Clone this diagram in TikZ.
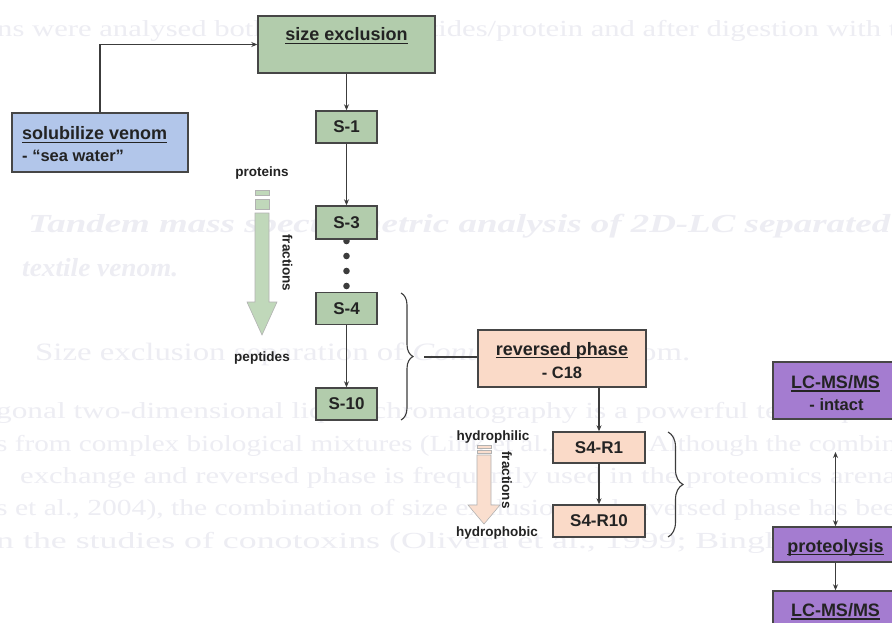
\documentclass[tikz,border=0pt]{standalone}
\usepackage{fontspec}
\setmainfont{Liberation Serif}
\newfontfamily\arialf{Liberation Sans}
\usepackage{graphicx}
\newcommand{\ulx}[1]{\setbox0=\hbox{#1}\leavevmode\rlap{\rule[-3.2pt]{\wd0}{1.3pt}}\box0}
\usetikzlibrary{arrows.meta,decorations.pathreplacing}
\definecolor{gfill}{RGB}{178,204,172}
\definecolor{garrow}{RGB}{192,216,186}
\definecolor{bfill}{RGB}{178,198,234}
\definecolor{pfill}{RGB}{250,218,200}
\definecolor{parrow}{RGB}{250,222,206}
\definecolor{pufill}{RGB}{164,124,208}
\definecolor{bord}{RGB}{70,70,70}
\definecolor{linec}{RGB}{60,60,60}
\definecolor{txt}{RGB}{35,35,35}
\definecolor{bgt}{RGB}{237,237,243}
\tikzset{
  bx/.style={draw=bord, line width=1.4pt, inner sep=0pt},
  ttl/.style={font=\arialf\bfseries\fontsize{18}{20}\selectfont, text=txt, inner sep=0pt},
  subt/.style={font=\arialf\bfseries\fontsize{16.5}{18}\selectfont, text=txt, inner sep=0pt},
  sml/.style={font=\arialf\bfseries\fontsize{13.5}{15}\selectfont, text=txt, inner sep=0pt},
  slab/.style={bx, font=\arialf\bfseries\fontsize{17}{19}\selectfont, text=txt, minimum width=61pt, minimum height=32pt},
  conn/.style={draw=linec, line width=1.1pt, -{Stealth[length=6pt,width=5pt]}},
  dconn/.style={draw=linec, line width=1.1pt, {Stealth[length=6pt,width=5pt]}-{Stealth[length=6pt,width=5pt]}},
  plain/.style={draw=linec, line width=1.1pt},
  brc/.style={draw=linec, line width=1.1pt, decorate, decoration={brace, amplitude=12pt}},
  bgl/.style={font=\fontsize{23}{25}\selectfont, text=bgt, inner sep=0pt, anchor=base west},
  bgm/.style={font=\fontsize{25}{27}\selectfont, text=bgt, inner sep=0pt, anchor=base west},
  bgh/.style={font=\bfseries\itshape\fontsize{26}{28}\selectfont, text=bgt, inner sep=0pt, anchor=base west},
  fat/.style={draw=gray!60, line width=0.6pt},
}
\begin{document}
\begin{tikzpicture}[x=1pt,y=-1pt]
\useasboundingbox (0,0) rectangle (892,623);
\clip (0,0) rectangle (892,623);
\fill[white] (0,0) rectangle (892,623);

% faint page text behind the figure
\node[bgl] (bg1) at (-3,37) {\resizebox{900pt}{\height}{ns were analysed both as intact peptides/protein and after digestion with t}};
\node[bgh] (bg2) at (28,233) {\resizebox{862pt}{\height}{Tandem mass spectrometric analysis of 2D-LC separated}};
\node[bgh] (bg3) at (22,276) {\resizebox{156pt}{\height}{textile venom.}};
\node[bgm] (bg4) at (35,360) {\resizebox{655pt}{\height}{Size exclusion separation of \emph{Conus textile} venom.}};
\node[bgl] (bg5) at (-4,418) {\resizebox{900pt}{\height}{gonal two-dimensional liquid chromatography is a powerful technique f}};
\node[bgl] (bg6) at (-4,451) {\resizebox{900pt}{\height}{s from complex biological mixtures (Link et al., 1999). Although the combin}};
\node[bgl] (bg7) at (20,483) {\resizebox{876pt}{\height}{exchange and reversed phase is frequently used in the proteomics arena}};
\node[bgl] (bg8) at (-4,515) {\resizebox{900pt}{\height}{s et al., 2004), the combination of size exclusion and reversed phase has bee}};
\node[bgl] (bg9) at (-4,548) {\resizebox{900pt}{\height}{n the studies of conotoxins (Olivera et al., 1999; Bingham et al}};

% big fraction arrows
\draw[fat, fill=garrow] (255,213) -- (269,213) -- (269,302) -- (277,302) -- (262,335) -- (247,302) -- (255,302) -- cycle;
\draw[fat, fill=garrow] (255,190) rectangle (269,195);
\draw[fat, fill=garrow] (255,199) rectangle (269,209);
\draw[fat, fill=parrow] (477,455) -- (491,455) -- (491,505) -- (500,505) -- (484,524) -- (468,505) -- (477,505) -- cycle;
\draw[fat, fill=parrow] (477,445) rectangle (491,448);
\draw[fat, fill=parrow] (477,450) rectangle (491,453);

% dots between S-3 and S-4
\fill[linec] (346.5,241) circle (3.3);
\fill[linec] (346.5,256) circle (3.3);
\fill[linec] (346.5,271) circle (3.3);
\fill[linec] (346.5,286) circle (3.3);

% boxes
\node[bx, fill=gfill, minimum width=177pt, minimum height=57pt] (sizeex) at (346.5,44.5) {};
\node[bx, fill=bfill, minimum width=176pt, minimum height=59pt] (solub) at (100,142.5) {};
\node[slab, fill=gfill] (s1) at (346.5,127) {S-1};
\node[slab, fill=gfill, minimum height=33pt] (s3) at (346.5,222.5) {S-3};
\node[slab, fill=gfill] (s4) at (346.5,308.5) {S-4};
\node[slab, fill=gfill] (s10) at (346.5,404) {S-10};
\node[bx, fill=pfill, minimum width=168pt, minimum height=57pt] (rp) at (562,358.5) {};
\node[slab, fill=pfill, minimum width=92pt, minimum height=31pt] (r1) at (599,447.5) {S4-R1};
\node[slab, fill=pfill, minimum width=92pt, minimum height=32pt] (r10) at (599,521) {S4-R10};
\node[bx, fill=pufill, minimum width=125pt, minimum height=57pt] (lc1) at (835.5,390.5) {};
\node[bx, fill=pufill, minimum width=125pt, minimum height=35pt] (prot) at (835.5,544.5) {};
\node[bx, fill=pufill, minimum width=125pt, minimum height=57pt] (lc2) at (835.5,619.5) {};

% box texts
\node[ttl, anchor=base] (sizeexl) at (346.5,41) {\ulx{size exclusion}};
\node[ttl, anchor=base west] (solubl) at (22,140) {\ulx{solubilize venom}};
\node[subt, anchor=base west] (solubs) at (22,162) {- “sea water”};
\node[ttl, anchor=base] (rpl) at (562,355) {\ulx{reversed phase}};
\node[subt, anchor=base] (rps) at (562,378) {- C18};
\node[ttl, anchor=base] (lc1l) at (835.5,388.5) {\ulx{LC-MS/MS}};
\node[subt, anchor=base] (lc1s) at (836.5,410) {- intact};
\node[ttl, anchor=base] (protl) at (835.5,552) {\ulx{proteolysis}};
\node[ttl, anchor=base] (lc2l) at (835.5,616.5) {\ulx{LC-MS/MS}};

% small labels
\node[sml] (prl) at (262,173) {proteins};
\node[sml] (pel) at (262,358) {peptides};
\node[sml, rotate=-90] (fr1) at (287.5,263) {fractions};
\node[sml] (hphil) at (493,437) {hydrophilic};
\node[sml] (hphob) at (497,533) {hydrophobic};
\node[sml, rotate=-90] (fr2) at (507,480) {fractions};

% connectors
\draw[conn] (solub.north) |- (sizeex.west);
\draw[conn] (sizeex.south) -- (s1.north);
\draw[conn] (s1.south) -- (s3.north);
\draw[conn] (s4.south) -- (s10.north);
\draw[brc] (401,293) -- (401,420);
\coordinate (b1tip) at (424,357);
\draw[plain] (b1tip) -- (rp.west |- b1tip);
\draw[conn] (rp.south -| r1.north) -- (r1.north);
\draw[conn] (r1.south) -- (r10.north);
\draw[brc, decoration={brace, amplitude=15pt}] (668,432) -- (668,537);
\coordinate (dtop) at (835.5,452);
\draw[dconn] (dtop) -- (prot.north -| dtop);
\draw[conn] (prot.south) -- (lc2.north);
\end{tikzpicture}
\end{document}
